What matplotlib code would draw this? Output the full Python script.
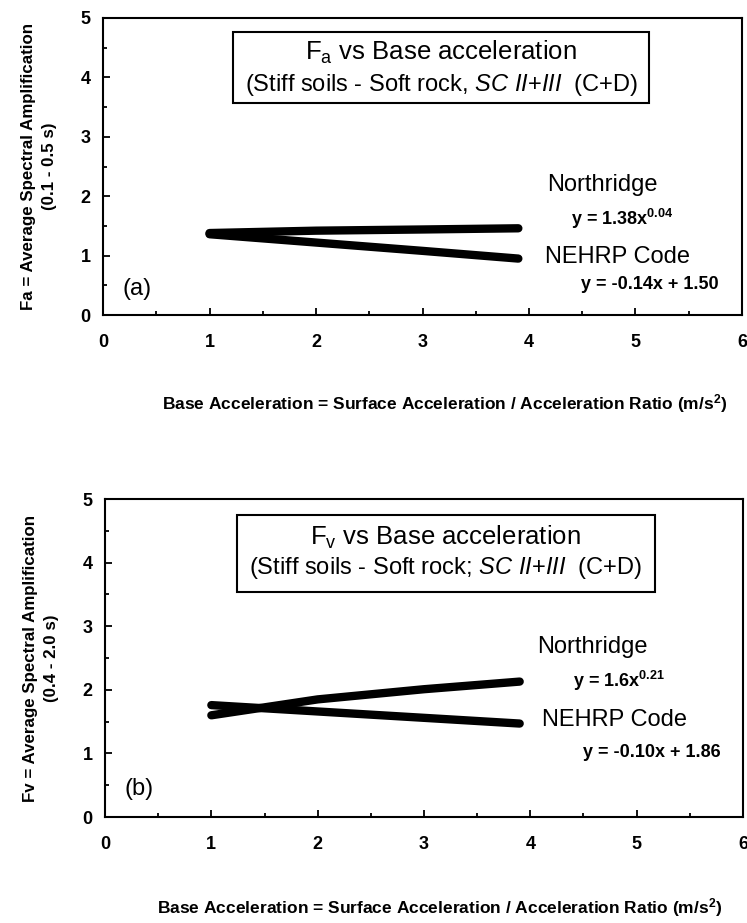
import matplotlib
matplotlib.use("Agg")
import matplotlib.pyplot as plt
from matplotlib.patches import Rectangle
from matplotlib.ticker import MultipleLocator

plt.rcParams["font.family"] = ["Liberation Sans", "DejaVu Sans"]
plt.rcParams["mathtext.fontset"] = "custom"
plt.rcParams["mathtext.rm"] = "Liberation Sans"
plt.rcParams["mathtext.it"] = "Liberation Sans:italic"
plt.rcParams["mathtext.bf"] = "Liberation Sans:bold"

# data (fitted trend lines)
base_acc = [1.0, 2.0, 3.0, 3.9]

fa_northridge = [1.38, 1.42, 1.44, 1.46]
fa_nehrp = [1.36, 1.22, 1.08, 0.95]

fv_northridge = [1.60, 1.85, 2.01, 2.13]
fv_nehrp = [1.76, 1.66, 1.56, 1.47]

fa_eqs = [r"y = 1.38x$^{\mathbf{0.04}}$", "y = -0.14x + 1.50"]
fv_eqs = [r"y = 1.6x$^{\mathbf{0.21}}$", "y = -0.10x + 1.86"]

XLABEL = "Base Acceleration = Surface Acceleration / Acceleration Ratio (m/s$^{\\mathbf{2}}$)"


def style_axes(ax):
    ax.set_xlim(0, 6)
    ax.set_ylim(0, 5)
    ax.xaxis.set_major_locator(MultipleLocator(1))
    ax.xaxis.set_minor_locator(MultipleLocator(0.5))
    ax.yaxis.set_major_locator(MultipleLocator(1))
    ax.yaxis.set_minor_locator(MultipleLocator(0.5))
    ax.tick_params(which="both", direction="in", width=1.3, top=False, right=False)
    ax.tick_params(which="major", length=5, labelsize=13)
    ax.tick_params(which="minor", length=3)
    ax.tick_params(axis="x", pad=14)
    ax.tick_params(axis="y", pad=9)
    for lab in ax.get_xticklabels() + ax.get_yticklabels():
        lab.set_fontweight("bold")
    for sp in ax.spines.values():
        sp.set_linewidth(1.5)


def draw_panel(ax, north, nehrp, eqs, title, subtitle, ylabel, tag, pos):
    ax.plot(base_acc, north, color="black", lw=6, solid_capstyle="round")
    ax.plot(base_acc, nehrp, color="black", lw=6, solid_capstyle="round")
    style_axes(ax)

    (bx0, by0, bx1, by1), (ty1, ty2), (nx, ny, e1x, e1y, cx, cy, e2x, e2y) = pos
    ax.add_patch(Rectangle((bx0, by0), bx1 - bx0, by1 - by0, fill=False,
                           lw=1.5, edgecolor="black"))
    mid = (bx0 + bx1) / 2
    ax.text(mid, ty1, title, ha="center", va="center", fontsize=18.5)
    ax.text(mid, ty2, subtitle, ha="center", va="center", fontsize=17)

    ax.text(nx, ny, "Northridge", ha="center", va="center", fontsize=17)
    ax.text(e1x, e1y, eqs[0], ha="center", va="center", fontsize=13, fontweight="bold")
    ax.text(cx, cy, "NEHRP Code", ha="center", va="center", fontsize=17)
    ax.text(e2x, e2y, eqs[1], ha="center", va="center", fontsize=13, fontweight="bold")
    ax.text(0.32, 0.44, tag, ha="center", va="center", fontsize=17)

    ax.set_ylabel(ylabel, fontsize=12.2, fontweight="bold", linespacing=1.5)
    ax.yaxis.set_label_coords(-0.072, 0.5)
    ax.set_xlabel(XLABEL, fontsize=12.5, fontweight="bold", va="top")


fig = plt.figure(figsize=(7.47, 9.23), dpi=100)
ax1 = fig.add_axes([0.1379, 0.6587, 0.8554, 0.3218])
ax2 = fig.add_axes([0.1406, 0.1148, 0.8540, 0.3445])

draw_panel(
    ax1, fa_northridge, fa_nehrp, fa_eqs,
    r"F$_\mathregular{a}$ vs Base acceleration",
    r"(Stiff soils - Soft rock, $\mathit{SC\ II{+}III}$  (C+D)",
    "Fa = Average Spectral Amplification\n(0.1 - 0.5 s)",
    "(a)",
    ((1.22, 3.57, 5.13, 4.76), (4.42, 3.87),
     (4.69, 2.19, 4.87, 1.62, 4.83, 0.98, 5.13, 0.51)),
)
ax1.xaxis.set_label_coords(0.535, -0.258)

draw_panel(
    ax2, fv_northridge, fv_nehrp, fv_eqs,
    r"F$_\mathregular{v}$ vs Base acceleration",
    r"(Stiff soils - Soft rock; $\mathit{SC\ II{+}III}$  (C+D)",
    "Fv = Average Spectral Amplification\n(0.4 - 2.0 s)",
    "(b)",
    ((1.24, 3.54, 5.17, 4.75), (4.40, 3.91),
     (4.58, 2.67, 4.83, 2.14, 4.79, 1.53, 5.14, 1.01)),
)
ax2.xaxis.set_label_coords(0.525, -0.25)

fig.savefig("out.png", dpi=100)
